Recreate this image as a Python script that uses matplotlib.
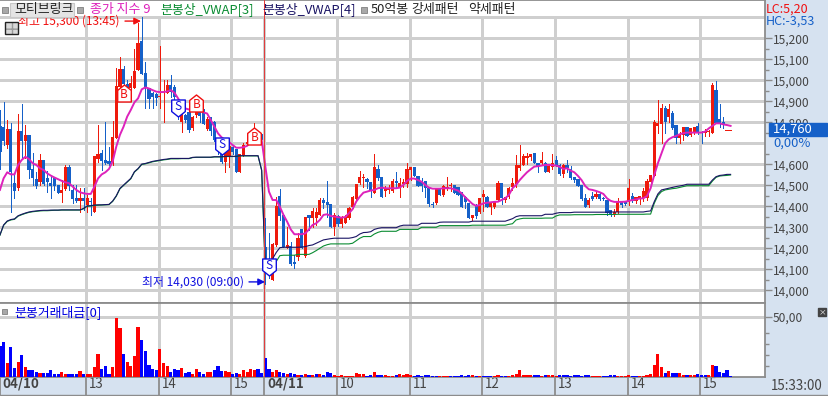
import matplotlib

matplotlib.use("Agg")
import matplotlib.pyplot as plt
from matplotlib.patches import Rectangle
from matplotlib.path import Path
from matplotlib.ticker import FixedLocator, FuncFormatter
from matplotlib.transforms import ScaledTranslation

plt.rcParams["font.family"] = ["Noto Sans CJK KR", "DejaVu Sans"]

W, H = 829, 396

# 3분봉 (index 0 = 04/10 장중, 73 = 04/11 09:00)
highs = [
    14860, 14895, 14811, 14795, 14557, 14838, 14886, 14787, 14740, 14652,
    14565, 14648, 14621, 14568, 14549, 14537, 14502, 14525, 14597, 14597,
    14502, 14502, 14486, 14486, 14454, 14438, 14640, 14787, 14668, 14800,
    14684, 14806, 15057, 15112, 15069, 15000, 15020, 15147, 15271, 15300,
    15088, 14961, 14945, 14938, 15163, 15001, 15001, 15025, 14977, 14880,
    14850, 14840, 14850, 14830, 14880, 14876, 14865, 14825, 14825, 14805,
    14720, 14680, 14670, 14690, 14690, 14675, 14650, 14700, 14720, 14740,
    14795, 14760, 14745, 14343, 14273, 14225, 14446, 14481, 14360, 14300,
    14230, 14168, 14271, 14292, 14350, 14358, 14390, 14390, 14438, 14441,
    14520, 14410, 14366, 14358, 14352, 14360, 14395, 14450, 14505, 14570,
    14554, 14533, 14517, 14649, 14596, 14541, 14495, 14500, 14530, 14565,
    14533, 14530, 14605, 14586, 14586, 14546, 14536, 14520, 14486, 14422,
    14486, 14486, 14500, 14538, 14510, 14502, 14494, 14467, 14450, 14415,
    14360, 14410, 14440, 14478, 14450, 14420, 14420, 14520, 14510, 14445,
    14490, 14533, 14645, 14692, 14648, 14652, 14650, 14652, 14605, 14660,
    14610, 14600, 14648, 14640, 14600, 14600, 14621, 14590, 14540, 14529,
    14500, 14459, 14438, 14470, 14470, 14470, 14445, 14430, 14380, 14385,
    14438, 14425, 14425, 14529, 14462, 14440, 14450, 14485, 14530, 14550,
    14810, 14906, 14887, 14878, 14887, 14856, 14787, 14755, 14780, 14776,
    14775, 14780, 14795, 14760, 14770, 14765, 14985, 14997, 14887, 14827,
    14760, 14760,
]
lows = [
    14580, 14690, 14676, 14375, 14438, 14478, 14629, 14629, 14533, 14501,
    14486, 14502, 14502, 14470, 14438, 14478, 14462, 14419, 14478, 14478,
    14414, 14422, 14375, 14383, 14375, 14359, 14375, 14612, 14573, 14600,
    14597, 14597, 14723, 14966, 14930, 14960, 14950, 14962, 15049, 15030,
    14866, 14866, 14866, 14882, 14866, 14803, 14938, 14922, 14898, 14815,
    14755, 14800, 14755, 14763, 14826, 14803, 14790, 14765, 14740, 14710,
    14650, 14605, 14565, 14585, 14650, 14565, 14565, 14640, 14690, 14700,
    14720, 14720, 14720, 14030, 14060, 14050, 14210, 14335, 14205, 14200,
    14120, 14105, 14144, 14200, 14160, 14287, 14303, 14311, 14358, 14390,
    14350, 14303, 14263, 14305, 14300, 14320, 14340, 14390, 14430, 14505,
    14490, 14485, 14445, 14465, 14525, 14446, 14450, 14462, 14470, 14485,
    14446, 14490, 14490, 14525, 14545, 14498, 14475, 14446, 14403, 14398,
    14410, 14454, 14450, 14480, 14475, 14465, 14454, 14398, 14390, 14346,
    14335, 14345, 14370, 14380, 14395, 14362, 14390, 14430, 14410, 14420,
    14440, 14480, 14490, 14575, 14595, 14600, 14620, 14605, 14565, 14600,
    14565, 14565, 14580, 14590, 14550, 14540, 14565, 14530, 14515, 14497,
    14430, 14399, 14396, 14430, 14440, 14430, 14428, 14359, 14355, 14355,
    14370, 14395, 14405, 14405, 14420, 14415, 14410, 14425, 14430, 14515,
    14545, 14748, 14703, 14748, 14803, 14770, 14700, 14700, 14716, 14735,
    14735, 14745, 14746, 14703, 14735, 14735, 14750, 14795, 14778, 14771,
    14760, 14760,
]
opens = [
    14780, 14776, 14692, 14768, 14513, 14486, 14759, 14711, 14740, 14578,
    14530, 14517, 14621, 14533, 14513, 14533, 14502, 14462, 14481, 14587,
    14478, 14441, 14427, 14441, 14406, 14427, 14375, 14625, 14652, 14621,
    14617, 14613, 14723, 14966, 15053, 14981, 14962, 14962, 15049, 15188,
    15033, 14961, 14941, 14933, 14920, 14938, 14941, 14977, 14966, 14860,
    14800, 14835, 14850, 14771, 14835, 14860, 14845, 14768, 14823, 14803,
    14715, 14650, 14612, 14635, 14680, 14675, 14565, 14645, 14695, 14705,
    14730, 14750, 14745, 14208, 14130, 14050, 14216, 14449, 14358, 14203,
    14211, 14136, 14157, 14292, 14163, 14357, 14346, 14343, 14358, 14430,
    14419, 14409, 14300, 14354, 14316, 14322, 14343, 14395, 14433, 14510,
    14535, 14530, 14517, 14465, 14576, 14541, 14475, 14478, 14473, 14522,
    14494, 14505, 14505, 14573, 14585, 14546, 14520, 14520, 14486, 14410,
    14414, 14486, 14454, 14487, 14495, 14502, 14492, 14467, 14446, 14415,
    14343, 14400, 14375, 14445, 14445, 14398, 14398, 14430, 14510, 14430,
    14446, 14493, 14505, 14584, 14595, 14630, 14635, 14652, 14605, 14605,
    14605, 14565, 14585, 14620, 14597, 14554, 14597, 14576, 14538, 14529,
    14500, 14438, 14407, 14450, 14446, 14458, 14440, 14430, 14380, 14365,
    14372, 14422, 14422, 14422, 14450, 14427, 14433, 14440, 14440, 14517,
    14545, 14783, 14792, 14867, 14824, 14843, 14787, 14727, 14740, 14776,
    14740, 14750, 14780, 14755, 14748, 14752, 14750, 14954, 14816, 14800,
    14760, 14760,
]
closes = [
    14660, 14713, 14768, 14562, 14475, 14759, 14711, 14740, 14573, 14533,
    14498, 14621, 14506, 14514, 14498, 14497, 14465, 14478, 14587, 14497,
    14435, 14427, 14441, 14427, 14441, 14420, 14640, 14648, 14616, 14605,
    14602, 14729, 14973, 15053, 14981, 14965, 14985, 15046, 15179, 15030,
    14966, 14909, 14919, 14914, 14925, 14945, 14977, 14945, 14922, 14830,
    14840, 14810, 14763, 14826, 14861, 14830, 14790, 14815, 14760, 14718,
    14700, 14612, 14660, 14685, 14660, 14565, 14648, 14690, 14705, 14730,
    14770, 14730, 14735, 14120, 14090, 14220, 14401, 14355, 14208, 14216,
    14125, 14125, 14248, 14203, 14347, 14346, 14378, 14375, 14430, 14417,
    14406, 14303, 14358, 14316, 14343, 14350, 14390, 14446, 14505, 14538,
    14541, 14517, 14474, 14585, 14533, 14446, 14480, 14482, 14520, 14510,
    14513, 14517, 14578, 14585, 14546, 14498, 14498, 14486, 14410, 14408,
    14486, 14454, 14498, 14492, 14500, 14465, 14454, 14398, 14420, 14346,
    14358, 14352, 14438, 14458, 14398, 14419, 14422, 14513, 14438, 14445,
    14485, 14510, 14597, 14597, 14641, 14640, 14649, 14605, 14590, 14620,
    14565, 14590, 14605, 14590, 14552, 14597, 14581, 14535, 14525, 14497,
    14433, 14399, 14430, 14433, 14458, 14435, 14435, 14370, 14362, 14375,
    14422, 14405, 14410, 14489, 14427, 14443, 14450, 14475, 14522, 14550,
    14800, 14798, 14867, 14803, 14862, 14772, 14727, 14740, 14776, 14735,
    14772, 14778, 14748, 14750, 14760, 14757, 14978, 14795, 14792, 14792,
    14760, 14760,
]
# 종가 지수 9
ma9 = [
    14478, 14533, 14562, 14552, 14552, 14597, 14621, 14636, 14625, 14605,
    14597, 14581, 14573, 14557, 14546, 14537, 14529, 14521, 14514, 14510,
    14494, 14478, 14467, 14462, 14459, 14459, 14494, 14533, 14552, 14562,
    14578, 14613, 14684, 14740, 14779, 14827, 14859, 14895, 14914, 14957,
    14966, 14961, 14953, 14946, 14944, 14944, 14947, 14953, 14941, 14914,
    14887, 14866, 14861, 14860, 14857, 14854, 14847, 14842, 14811, 14779,
    14747, 14728, 14715, 14707, 14692, 14679, 14679, 14681, 14688, 14707,
    14731, 14734, 14715, 14590, 14470, 14430, 14430, 14398, 14359, 14327,
    14290, 14267, 14267, 14267, 14271, 14290, 14311, 14319, 14335, 14359,
    14362, 14354, 14351, 14348, 14346, 14349, 14367, 14386, 14422, 14446,
    14465, 14470, 14475, 14478, 14486, 14489, 14486, 14486, 14486, 14486,
    14489, 14502, 14521, 14532, 14532, 14525, 14517, 14502, 14489, 14484,
    14484, 14484, 14486, 14486, 14486, 14481, 14475, 14462, 14443, 14427,
    14411, 14402, 14406, 14414, 14417, 14419, 14421, 14422, 14430, 14438,
    14454, 14486, 14502, 14525, 14544, 14562, 14576, 14589, 14591, 14594,
    14597, 14597, 14596, 14594, 14588, 14578, 14581, 14570, 14562, 14545,
    14525, 14497, 14481, 14478, 14473, 14467, 14459, 14438, 14426, 14421,
    14421, 14421, 14422, 14426, 14430, 14433, 14437, 14438, 14449, 14486,
    14549, 14605, 14652, 14700, 14719, 14729, 14735, 14743, 14748, 14751,
    14751, 14751, 14751, 14751, 14756, 14771, 14783, 14795, 14795, 14790,
    14787, 14783,
]
# 분봉상_VWAP[4]
vwap4 = [
    14264, 14311, 14330, 14337, 14340, 14355, 14362, 14368, 14373, 14376,
    14378, 14380, 14381, 14381, 14382, 14382, 14382, 14383, 14383, 14383,
    14383, 14383, 14383, 14390, 14402, 14403, 14406, 14407, 14407, 14408,
    14409, 14425, 14450, 14485, 14501, 14517, 14533, 14565, 14580, 14601,
    14604, 14609, 14614, 14617, 14620, 14623, 14625, 14628, 14628, 14628,
    14628, 14628, 14628, 14633, 14634, 14634, 14634, 14634, 14634, 14636,
    14636, 14636, 14638, 14638, 14638, 14638, 14641, 14641, 14641, 14641,
    14641, 14641, 14573, 14120, 14130, 14150, 14180, 14203, 14205, 14205,
    14205, 14205, 14205, 14206, 14208, 14213, 14216, 14224, 14232, 14240,
    14243, 14246, 14248, 14248, 14248, 14248, 14248, 14251, 14256, 14268,
    14275, 14276, 14279, 14290, 14295, 14298, 14298, 14298, 14298, 14298,
    14306, 14310, 14310, 14310, 14310, 14310, 14319, 14319, 14319, 14319,
    14319, 14324, 14325, 14325, 14325, 14325, 14325, 14325, 14325, 14325,
    14329, 14329, 14329, 14329, 14329, 14329, 14329, 14329, 14329, 14329,
    14335, 14341, 14351, 14355, 14355, 14355, 14355, 14355, 14355, 14355,
    14362, 14362, 14362, 14367, 14370, 14370, 14370, 14370, 14372, 14372,
    14372, 14372, 14372, 14372, 14372, 14372, 14372, 14372, 14373, 14373,
    14373, 14373, 14373, 14373, 14373, 14373, 14373, 14373, 14376, 14378,
    14422, 14459, 14478, 14482, 14486, 14490, 14494, 14497, 14500, 14505,
    14505, 14505, 14505, 14505, 14505, 14505, 14525, 14541, 14547, 14549,
    14552, 14552,
]
# 분봉상_VWAP[3]
vwap3 = [
    14262, 14309, 14328, 14335, 14338, 14353, 14360, 14366, 14371, 14374,
    14376, 14378, 14379, 14379, 14380, 14381, 14381, 14382, 14382, 14382,
    14382, 14382, 14382, 14388, 14400, 14401, 14404, 14405, 14406, 14407,
    14408, 14423, 14448, 14483, 14499, 14515, 14531, 14563, 14578, 14599,
    14602, 14607, 14612, 14615, 14618, 14621, 14623, 14626, 14626, 14626,
    14627, 14627, 14627, 14632, 14633, 14633, 14633, 14633, 14633, 14635,
    14635, 14635, 14637, 14637, 14637, 14637, 14640, 14640, 14640, 14640,
    14640, 14640, 14570, 14100, 14100, 14120, 14137, 14165, 14167, 14167,
    14167, 14167, 14171, 14171, 14171, 14171, 14179, 14189, 14200, 14211,
    14217, 14221, 14221, 14221, 14221, 14221, 14221, 14224, 14236, 14248,
    14256, 14256, 14256, 14268, 14276, 14281, 14281, 14281, 14281, 14281,
    14290, 14290, 14290, 14290, 14290, 14290, 14300, 14300, 14300, 14300,
    14300, 14308, 14308, 14308, 14308, 14308, 14308, 14308, 14308, 14308,
    14310, 14310, 14310, 14310, 14310, 14310, 14310, 14310, 14310, 14310,
    14314, 14317, 14335, 14340, 14343, 14343, 14343, 14343, 14343, 14343,
    14344, 14344, 14344, 14354, 14359, 14359, 14359, 14359, 14360, 14360,
    14360, 14360, 14360, 14360, 14361, 14361, 14361, 14361, 14361, 14361,
    14362, 14362, 14362, 14362, 14362, 14362, 14362, 14362, 14363, 14363,
    14414, 14451, 14470, 14478, 14481, 14484, 14486, 14490, 14494, 14498,
    14498, 14498, 14498, 14498, 14498, 14498, 14520, 14538, 14544, 14546,
    14547, 14549,
]
# 분봉거래대금
volume = [
    25.8, 29.2, 11.7, 25.0, 7.5, 12.5, 18.3, 8.3, 5.8, 5.8,
    4.2, 3.3, 3.3, 3.3, 5.8, 2.5, 2.5, 4.2, 2.5, 2.5,
    2.5, 2.5, 5.0, 2.5, 2.5, 2.5, 8.3, 19.2, 6.7, 9.2,
    2.5, 8.3, 49.2, 40.8, 19.2, 12.5, 9.2, 17.5, 41.7, 30.8,
    21.7, 10.0, 6.7, 5.8, 23.3, 11.7, 9.2, 4.2, 6.7, 5.8,
    7.5, 3.3, 4.2, 2.5, 6.7, 4.2, 2.5, 4.2, 4.2, 5.8,
    9.2, 5.0, 5.0, 4.2, 2.5, 3.3, 2.5, 5.8, 4.2, 6.7,
    5.8, 6.7, 3.3, 15.8, 6.7, 4.2, 5.8, 4.2, 3.3, 2.5,
    3.3, 2.8, 1.7, 1.7, 2.5, 1.7, 1.7, 2.5, 2.5, 1.7,
    4.2, 3.3, 1.7, 0.8, 1.7, 0.8, 0.8, 0.8, 3.3, 2.5,
    2.5, 0.8, 1.7, 4.2, 1.7, 1.7, 1.7, 0.8, 0.8, 1.7,
    2.5, 1.7, 2.5, 1.7, 0.8, 1.7, 0.6, 1.7, 1.7, 0.6,
    0.6, 0.6, 0.6, 0.6, 0.6, 0.6, 0.6, 1.7, 0.8, 1.7,
    1.7, 0.6, 0.8, 0.8, 0.6, 0.6, 0.8, 1.7, 0.6, 0.6,
    0.8, 1.7, 2.5, 5.8, 1.7, 1.7, 1.7, 1.7, 1.7, 0.6,
    1.7, 1.7, 1.7, 0.8, 1.7, 1.7, 1.7, 0.8, 1.7, 1.7,
    0.8, 1.7, 1.7, 0.8, 0.8, 0.8, 0.6, 0.6, 1.7, 1.7,
    0.8, 0.8, 0.8, 1.7, 0.8, 0.6, 0.6, 0.8, 1.7, 2.5,
    10.0, 19.4, 8.3, 3.3, 5.0, 3.3, 3.3, 3.3, 1.7, 1.7,
    1.7, 1.7, 2.5, 1.7, 1.7, 1.7, 10.0, 9.2, 4.2, 3.3,
    5.8, 0.6,
]
# 1 = 빨강, 0 = 파랑
vol_up = [
    0, 0, 1, 0, 0, 1, 0, 1, 0, 0,
    0, 1, 0, 0, 0, 0, 0, 1, 1, 0,
    0, 0, 1, 0, 1, 1, 1, 1, 0, 0,
    0, 1, 1, 1, 0, 1, 1, 1, 1, 0,
    0, 0, 0, 0, 1, 1, 1, 0, 0, 0,
    1, 0, 0, 1, 1, 0, 0, 1, 1, 0,
    0, 0, 1, 1, 0, 0, 1, 1, 1, 1,
    1, 0, 0, 0, 0, 1, 1, 0, 0, 1,
    0, 0, 1, 0, 1, 0, 1, 0, 1, 0,
    0, 0, 1, 1, 1, 1, 1, 1, 1, 1,
    1, 0, 0, 1, 0, 0, 1, 1, 1, 0,
    1, 1, 1, 1, 0, 0, 0, 0, 0, 0,
    0, 1, 1, 1, 0, 0, 0, 0, 0, 0,
    1, 0, 1, 0, 0, 0, 1, 1, 0, 0,
    1, 1, 1, 1, 1, 1, 1, 0, 0, 1,
    0, 1, 1, 1, 0, 0, 0, 0, 0, 0,
    0, 0, 0, 1, 1, 1, 0, 0, 0, 0,
    1, 1, 1, 1, 0, 0, 1, 1, 1, 1,
    1, 1, 1, 0, 1, 0, 0, 1, 1, 0,
    1, 1, 0, 0, 0, 1, 1, 0, 0, 0,
    0, 0,
]

buy_bars = [34, 54, 70]
buy_prices = [14941, 14893, 14736]
sell_bars = [49, 61, 74]
sell_prices = [14866, 14688, 14110]

grid_bars = [24, 44, 64, 73, 93, 113, 133, 153, 173, 193]
grid_labels = ["13", "14", "15", "04/11", "10", "11", "12", "13", "14", "15"]
price_ticks = [14000, 14100, 14200, 14300, 14400, 14500, 14600, 14800, 14900, 15000, 15100, 15200]
hlines = list(range(14000, 15400, 100))

RED, BLUE = "#EE1A0C", "#1560C8"
GRID = "#CFCFCF"
PANEL = "#D6E2F0"
EDGE = "#8C8C8C"
TXT = "#444444"
FS = 8.6
HEAD = 9.3
PX = 3.635  # 봉 간격 px


def fx(px):
    return px / W


def fy(py):
    return 1 - py / H


def bar_x(x):
    return (x + 0.05) / PX


def square(x, y, size):
    # 머리글의 작은 회색 네모
    fig.add_artist(Rectangle((fx(x), fy(y + size)), size / W, size / H, transform=fig.transFigure,
                             fc="#A8A8A8", ec="#808080", lw=0.6, zorder=10))


fig = plt.figure(figsize=(W / 100, H / 100), dpi=100, facecolor=PANEL)
xlim = (bar_x(0), bar_x(765))
ax = fig.add_axes([0, fy(303), fx(765), 303 / H])
vax = fig.add_axes([0, fy(377), fx(765), 74 / H])

ax.set_xlim(*xlim)
ax.set_ylim(14000 - (303 - 290.3) / 21 * 100, 14000 + 290.3 / 21 * 100)
vax.set_xlim(*xlim)
vax.set_ylim(0, 73 / 60 * 50 + 1 / 60 * 50)

# 격자
gx = [b - 0.3 for b in grid_bars]
ax.hlines(hlines, *xlim, color=GRID, lw=0.75, zorder=1, antialiased=False)
ax.vlines(gx, ax.get_ylim()[0], 15300, color=GRID, lw=0.75, zorder=1, antialiased=False)
vax.vlines(gx, 0, vax.get_ylim()[1], color=GRID, lw=0.75, zorder=1, antialiased=False)
vax.hlines([50], *xlim, color=GRID, lw=0.75, zorder=1, antialiased=False)

# 캔들
idx = list(range(len(closes)))
colors = [RED if c >= o else BLUE for o, c in zip(opens, closes, strict=True)]
ax.vlines(idx, lows, highs, color=colors, lw=0.72, zorder=3, antialiased=False)
bottoms = [min(o, c) for o, c in zip(opens, closes, strict=True)]
heights = [max(abs(c - o), 5) for o, c in zip(opens, closes, strict=True)]
ax.bar(idx, heights, bottom=bottoms, width=0.88, color=colors, zorder=3, antialiased=False)

# 보조지표
ax.plot(idx, vwap3, color="#0A8C32", lw=0.8, zorder=4)
ax.plot(idx, vwap4, color="#1A1464", lw=0.8, zorder=4)
ax.plot(idx, ma9, color="#DD22BB", lw=1.4, zorder=5)

# 04/11 시작선
for a in (ax, vax):
    a.axvline(73 - 0.3, color="#E23C3C", lw=0.72, zorder=6)

# 신호 마커
house_up = Path([(-1, -1.25), (1, -1.25), (1, 0.45), (0, 1.25), (-1, 0.45), (-1, -1.25)], closed=True)
house_dn = Path([(-1, 1.25), (1, 1.25), (1, -0.45), (0, -1.25), (-1, -0.45), (-1, 1.25)], closed=True)
ax.scatter(buy_bars, buy_prices, s=150, marker=house_up, facecolor="white", edgecolor="#F01010", lw=1.0, zorder=7)
ax.scatter(sell_bars, sell_prices, s=150, marker=house_dn, facecolor="white", edgecolor="#1010E0", lw=1.0, zorder=7)
for b, p in zip(buy_bars, buy_prices, strict=True):
    ax.text(b, p - 8, "B", color="#F01010", fontsize=8.5, ha="center", va="center", zorder=8)
for b, p in zip(sell_bars, sell_prices, strict=True):
    ax.text(b, p + 8, "S", color="#1010E0", fontsize=8.5, ha="center", va="center", zorder=8)

# 최고 / 최저
ax.text(bar_x(18), 15282, "최고 15,300 (13:45)", color="#F01010", fontsize=FS, va="center", zorder=9)
ax.annotate("", xy=(bar_x(141), 15282), xytext=(bar_x(125), 15282),
            arrowprops=dict(arrowstyle="-|>", color="#F01010", lw=1.0, shrinkA=0, shrinkB=0), zorder=9)
ax.text(bar_x(142), 14040, "최저 14,030 (09:00)", color="#1010E0", fontsize=FS, va="center", zorder=9)
ax.annotate("", xy=(bar_x(265), 14040), xytext=(bar_x(249), 14040),
            arrowprops=dict(arrowstyle="-|>", color="#1010E0", lw=1.0, shrinkA=0, shrinkB=0), zorder=9)

# 거래대금
vcolors = ["#FF0000" if u else "#0000FF" for u in vol_up]
vax.bar(idx, volume, width=0.88, color=vcolors, zorder=3, antialiased=False)

# 오른쪽 가격축
for a in (ax, vax):
    a.yaxis.tick_right()
    a.set_facecolor("white")
    a.spines["left"].set_visible(False)
    for s in ("right", "top", "bottom"):
        a.spines[s].set_color(EDGE)
        a.spines[s].set_linewidth(1.3)
ax.set_yticks(price_ticks)
ax.yaxis.set_major_formatter(FuncFormatter(lambda v, _: f"{int(v):,}"))
ax.yaxis.set_minor_locator(FixedLocator([p + 50 for p in hlines[:-2]]))
ax.tick_params(axis="y", which="major", length=5, width=1, color=EDGE, labelcolor=TXT, labelsize=FS, pad=0.5)
ax.tick_params(axis="y", which="minor", length=3, width=1, color=EDGE)
ax.tick_params(axis="x", length=0, labelbottom=False)
vax.set_yticks([50], ["50,00"])
vax.yaxis.set_minor_locator(FixedLocator([9.2, 18.4, 27.6, 36.8]))
vax.tick_params(axis="y", which="major", length=5, width=1, color=EDGE, labelcolor=TXT, labelsize=FS, pad=0.5)
vax.tick_params(axis="y", which="minor", length=3, width=1, color=EDGE)

# 아래쪽 시간축
vax.set_xticks([0.02] + gx, ["04/10"] + grid_labels)
vax.tick_params(axis="x", length=13, width=1.3, color=EDGE, labelcolor=TXT, labelsize=9.6, pad=-13)
shift = ScaledTranslation(2 / 72, 0, fig.dpi_scale_trans)
for lab in vax.get_xticklabels():
    lab.set_ha("left")
    lab.set_transform(lab.get_transform() + shift)
    if "/" in lab.get_text():
        lab.set_fontweight("bold")

# 위쪽 머리글
fig.add_artist(Rectangle((0, 0), 1, 1.5 / H, transform=fig.transFigure, color=EDGE))
square(2, 6.5, 6)
fig.add_artist(Rectangle((fx(10), fy(17)), 64 / W, 14 / H, transform=fig.transFigure, fc="#E4E4E4", ec="#C8C8C8", lw=0.8, zorder=10))
fig.text(fx(14), fy(9.5), "모티브링크", color="#222222", fontsize=HEAD, va="center", zorder=11)
square(77, 6.5, 6)
fig.text(fx(90), fy(9.5), "종가 지수 9", color="#DD22BB", fontsize=HEAD, va="center", zorder=11)
fig.text(fx(160), fy(9.5), "분봉상_VWAP[3]", color="#0A8C32", fontsize=HEAD, va="center", zorder=11)
fig.text(fx(262), fy(9.5), "분봉상_VWAP[4]", color="#1A1464", fontsize=HEAD, va="center", zorder=11)
square(361, 6.5, 6)
fig.text(fx(371), fy(9.5), "50억봉", color="#222222", fontsize=HEAD, va="center", zorder=11)
fig.text(fx(411), fy(9.5), "강세패턴", color="#222222", fontsize=HEAD, va="center", zorder=11)
fig.text(fx(468), fy(9.5), "약세패턴", color="#222222", fontsize=HEAD, va="center", zorder=11)

# 표 아이콘
fig.add_artist(Rectangle((fx(5), fy(34)), 13 / W, 12 / H, transform=fig.transFigure, fc="#D8D8D8", ec="#999999", hatch="++", lw=0, zorder=10))
fig.add_artist(Rectangle((fx(5), fy(34)), 13 / W, 12 / H, transform=fig.transFigure, fill=False, ec="#222222", lw=1, zorder=10))

# 거래대금 제목
square(2, 309, 5)
fig.text(fx(14), fy(312), "분봉거래대금[0]", color="#0000E0", fontsize=HEAD, va="center", zorder=11)

# 오른쪽 상태값
fig.text(fx(766), fy(9), "LC:5,20", color="#F01010", fontsize=9, va="center", zorder=11)
fig.text(fx(766), fy(21), "HC:-3,53", color="#1560C8", fontsize=9, va="center", zorder=11)
fig.add_artist(Rectangle((fx(769), fy(136)), 58 / W, 13 / H, transform=fig.transFigure, color="#1560C8", zorder=10))
fig.text(fx(773), fy(129.5), "14,760", color="white", fontsize=9.4, va="center", zorder=11)
fig.text(fx(773), fy(143), "0,00%", color="#1560C8", fontsize=9.4, va="center", zorder=11)
fig.add_artist(Rectangle((fx(818), fy(316)), 8 / W, 8 / H, transform=fig.transFigure, color="#444444", zorder=10))
fig.text(fx(822), fy(312), "×", color="white", fontsize=5.5, ha="center", va="center", zorder=11)
fig.text(fx(771), fy(386), "15:33:00", color=TXT, fontsize=9.6, va="center", zorder=11)

fig.savefig("out.png", dpi=100)
plt.close(fig)
